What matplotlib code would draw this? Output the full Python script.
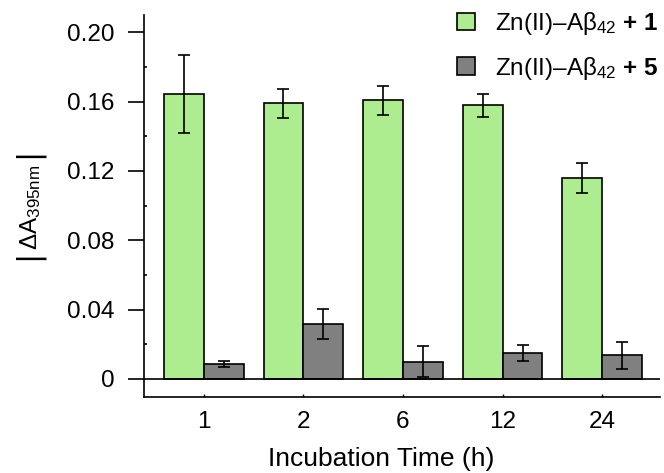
import numpy as np
import matplotlib
matplotlib.use("Agg")
import matplotlib.pyplot as plt
from matplotlib.ticker import MultipleLocator

plt.rcParams['font.family'] = ['Liberation Sans', 'DejaVu Sans']
plt.rcParams['mathtext.fontset'] = 'custom'
plt.rcParams['mathtext.rm'] = 'Liberation Sans'
plt.rcParams['mathtext.it'] = 'Liberation Sans:italic'
plt.rcParams['mathtext.bf'] = 'Liberation Sans:bold'

categories = ["1", "2", "6", "12", "24"]
series1_label = r"Zn(II)–A$\mathrm{\beta}_{42}$ $\mathbf{+}$ $\mathbf{1}$"
series2_label = r"Zn(II)–A$\mathrm{\beta}_{42}$ $\mathbf{+}$ $\mathbf{5}$"
series1 = [0.1645, 0.1590, 0.1607, 0.1578, 0.1160]
series1_err = [0.0225, 0.0085, 0.0085, 0.0068, 0.0087]
series2 = [0.0086, 0.0316, 0.0100, 0.0150, 0.0137]
series2_err = [0.0018, 0.0086, 0.0090, 0.0048, 0.0077]
yticks = [0, 0.04, 0.08, 0.12, 0.16, 0.20]
ytick_labels = ["0", "0.04", "0.08", "0.12", "0.16", "0.20"]

W, H = 664, 473
fig = plt.figure(figsize=(W / 100, H / 100), dpi=100)
ax = fig.add_axes([144 / W, 1 - 397 / H, (660 - 144) / W, (397 - 15) / H])

x = np.arange(len(categories))
w = 0.4
green = "#AEEC90"
grey = "#808080"
ekw = dict(ecolor="black", elinewidth=1.2, capsize=4, capthick=1.2)
ax.bar(x - w / 2, series1, w, color=green, edgecolor="black", linewidth=1.2,
       yerr=series1_err, error_kw=ekw, label=series1_label, zorder=2)
ax.bar(x + w / 2, series2, w, color=grey, edgecolor="black", linewidth=1.2,
       yerr=series2_err, error_kw=ekw, label=series2_label, zorder=2)

ax.axhline(0, color="black", linewidth=1.2, zorder=3)

ax.set_xlim(-0.6, 4.58)
ax.set_ylim(-0.0104, 0.21)
ax.set_yticks(yticks)
ax.set_yticklabels(ytick_labels)
ax.yaxis.set_minor_locator(MultipleLocator(0.02))
ax.set_xticks(x)
ax.set_xticklabels(categories)

for s in ["top", "right"]:
    ax.spines[s].set_visible(False)
for s in ["left", "bottom"]:
    ax.spines[s].set_linewidth(1.2)

ax.tick_params(axis="y", which="major", direction="out", length=11.5, width=1.2,
               labelsize=17.5, pad=10)
ax.tick_params(axis="y", which="minor", direction="in", length=2, width=1.2)
ax.tick_params(axis="x", which="major", direction="in", length=2, width=1.0,
               labelsize=17.5, pad=10)

ax.set_xlabel("Incubation Time (h)", fontsize=19, labelpad=10)
ax.xaxis.label.set_x((381 - 144) / (660 - 144))

# y-axis label: |ΔA395nm|
fig.text(31 / W, 1 - 207 / H, r"$\Delta\mathrm{A}_{\mathrm{395nm}}$", rotation=90,
         fontsize=17.5, ha="center", va="center")
fig.text(28 / W, 1 - 153 / H, "|", rotation=90, fontsize=22, ha="center", va="center",
         family="DejaVu Sans")
fig.text(28 / W, 1 - 255 / H, "|", rotation=90, fontsize=22, ha="center", va="center",
         family="DejaVu Sans")

leg = fig.legend(loc="upper left", bbox_to_anchor=(457 / W, 1 - 10 / H), frameon=False,
                 fontsize=17.5, handlelength=0.72, handleheight=0.72,
                 handletextpad=0.85, labelspacing=0.72, borderpad=0, borderaxespad=0)
for h in leg.legend_handles:
    h.set_linewidth(1.2)

fig.savefig("out.png", dpi=100)
